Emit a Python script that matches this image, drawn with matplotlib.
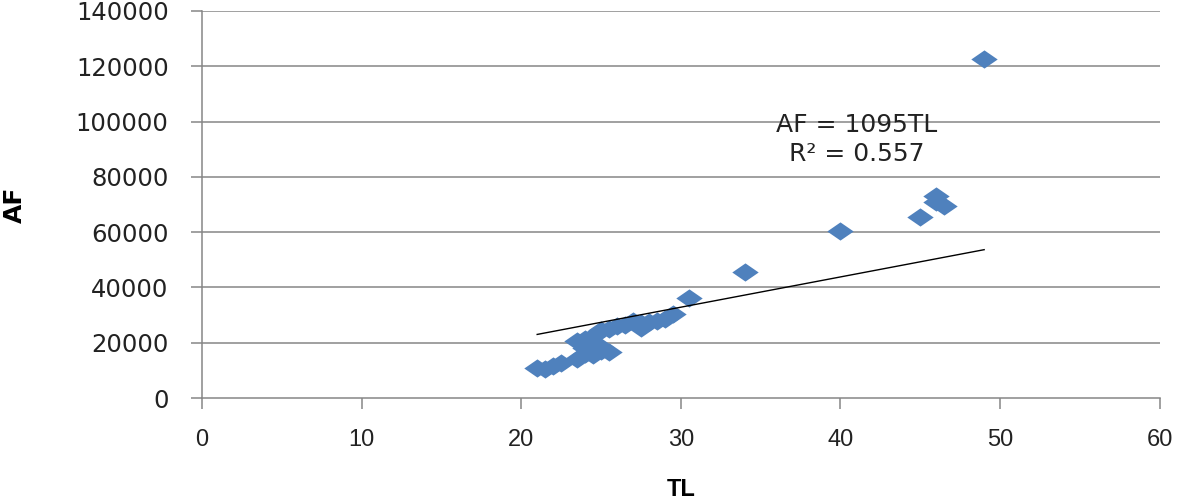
import matplotlib
matplotlib.use("Agg")
import matplotlib.pyplot as plt
from matplotlib.path import Path
import numpy as np

# data
tl = [21.0, 21.5, 22.0, 22.5, 23.5, 24.0, 24.5, 25.0, 25.5,
      23.5, 24.0, 24.5, 25.0, 24.0, 24.5, 25.0, 25.5, 26.0,
      26.5, 27.0, 27.5, 28.0, 28.5, 29.0, 29.5, 27.5,
      30.5, 34.0, 40.0, 45.0, 46.0, 46.0, 46.5, 49.0]
af = [11000, 10500, 11500, 12500, 14000, 16000, 15500, 17000, 16500,
      20500, 21500, 20000, 18500, 18000, 22500, 24500, 25000, 26000,
      26500, 28000, 27000, 27500, 28000, 28500, 30500, 25500,
      36000, 45500, 60500, 65500, 73000, 71000, 69500, 122500]
slope = 1095
r2 = 0.557
x_ticks = [0, 10, 20, 30, 40, 50, 60]
y_ticks = [0, 20000, 40000, 60000, 80000, 100000, 120000, 140000]

grey = '#868686'

# Excel-style wide diamond
diamond = Path([(-1, 0), (0, 0.69), (1, 0), (0, -0.69), (-1, 0)],
               [Path.MOVETO, Path.LINETO, Path.LINETO, Path.LINETO, Path.CLOSEPOLY])

fig = plt.figure(figsize=(11.81, 5.0), dpi=100)
ax = fig.add_axes([0.171, 0.204, 0.811, 0.774])

ax.set_xlim(0, 60)
ax.set_ylim(0, 140000)

for yv in y_ticks[1:]:
    ax.axhline(yv, color=grey, lw=1.1, zorder=1)

ax.plot(tl, af, linestyle='none', marker=diamond, markersize=19,
        color='#4F81BD', markeredgewidth=0, zorder=3)

xl = np.array([min(tl), max(tl)])
ax.plot(xl, slope * xl, color='black', lw=1.0, zorder=4)

ax.text(41.0, 93500, f'AF = {slope}TL\nR² = {r2}', ha='center', va='center',
        fontsize=18, family='DejaVu Sans', color='#222222', linespacing=1.25,
        zorder=5)

for s in ['top', 'right']:
    ax.spines[s].set_visible(False)
for s in ['left', 'bottom']:
    ax.spines[s].set_color(grey)
    ax.spines[s].set_linewidth(1.1)

ax.set_xticks(x_ticks)
ax.set_yticks(y_ticks)
ax.set_yticklabels([str(v) for v in y_ticks], family='DejaVu Sans', fontsize=17.5,
                   color='#222222')
ax.set_xticklabels([str(v) for v in x_ticks], family='Liberation Sans', fontsize=17,
                   color='#222222')
ax.tick_params(axis='both', direction='out', length=8, width=1.1, color=grey)
ax.tick_params(axis='x', pad=14)
ax.tick_params(axis='y', pad=16)

ax.set_xlabel('TL', fontsize=17, fontweight='bold', family='Liberation Sans', labelpad=20)
ax.set_ylabel('AF', fontsize=18, fontweight='bold', family='DejaVu Sans')
ax.yaxis.set_label_coords(-0.183, 0.5)

fig.savefig('out.png', dpi=100)
